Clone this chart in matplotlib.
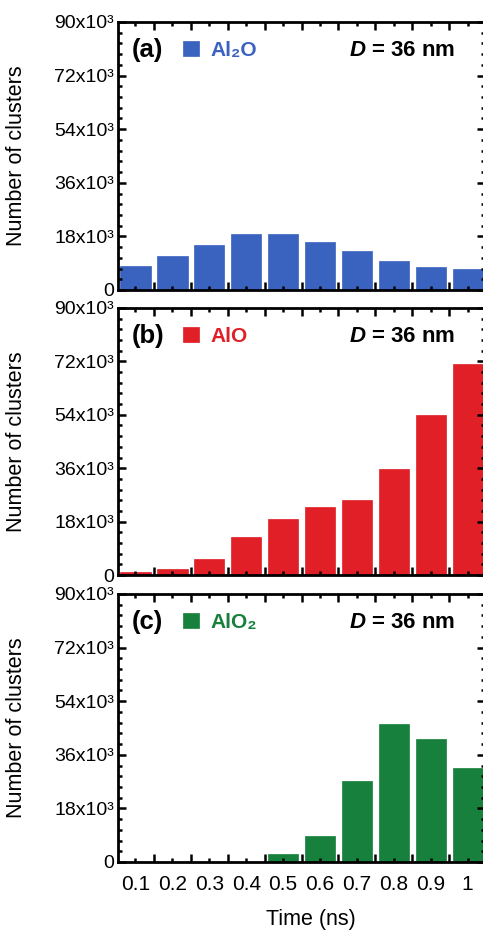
import matplotlib
matplotlib.use("Agg")
import matplotlib.pyplot as plt
import numpy as np
from matplotlib.ticker import MultipleLocator, FixedLocator

plt.rcParams['font.family'] = ['Liberation Sans', 'DejaVu Sans']
plt.rcParams['mathtext.fontset'] = 'custom'
plt.rcParams['mathtext.bfit'] = 'Liberation Sans:bold:italic'
plt.rcParams['mathtext.rm'] = 'Liberation Sans'
plt.rcParams['mathtext.bf'] = 'Liberation Sans:bold'

times = [0.1, 0.2, 0.3, 0.4, 0.5, 0.6, 0.7, 0.8, 0.9, 1.0]
time_labels = ["0.1", "0.2", "0.3", "0.4", "0.5", "0.6", "0.7", "0.8", "0.9", "1"]
al2o = [8.2e3, 11.3e3, 15.2e3, 18.7e3, 18.7e3, 16.2e3, 13.0e3, 9.7e3, 7.6e3, 6.9e3]
alo = [1.0e3, 2.1e3, 5.3e3, 12.7e3, 19.0e3, 22.8e3, 25.4e3, 35.8e3, 54.0e3, 71.2e3]
alo2 = [0, 0, 0, 0, 2.6e3, 8.6e3, 27.2e3, 46.5e3, 41.3e3, 31.6e3]
y_ticks = [0, 18e3, 36e3, 54e3, 72e3, 90e3]
y_labels = ["0", "18x10³", "36x10³", "54x10³", "72x10³", "90x10³"]

panels = [
    ("(a)", "Al₂O", al2o, "#3a62bf"),
    ("(b)", "AlO", alo, "#e01f27"),
    ("(c)", "AlO₂", alo2, "#17803c"),
]

W, H = 483, 933
fig = plt.figure(figsize=(W / 100, H / 100), dpi=100)

tops = [22, 308, 594]
bottoms = [290, 575, 862]
left_px, right_px = 118, 485

for i, (tag, name, vals, col) in enumerate(panels):
    ax = fig.add_axes([left_px / W, 1 - bottoms[i] / H,
                       (right_px - left_px) / W, (bottoms[i] - tops[i]) / H])
    bars = ax.bar(times, vals, width=0.082, color=col, edgecolor=col,
                  linewidth=0.5)
    ax.set_xlim(0.0526, 1.047)
    ax.set_ylim(0, 90e3)
    for s in ax.spines.values():
        s.set_linewidth(2.0)
    ax.yaxis.set_major_locator(FixedLocator(y_ticks))
    ax.yaxis.set_minor_locator(MultipleLocator(3.6e3))
    ax.set_yticklabels(y_labels)
    ax.xaxis.set_major_locator(FixedLocator(times))
    ax.xaxis.set_minor_locator(FixedLocator(np.array(times) + 0.05))
    if i == 2:
        ax.set_xticklabels(time_labels)
    else:
        ax.set_xticklabels([])
    ax.tick_params(axis='x', which='major', direction='in', length=3,
                   width=1.8, top=True, bottom=True, labelsize=15, pad=9)
    ax.tick_params(axis='x', which='minor', direction='in', length=6,
                   width=1.8, top=True, bottom=True)
    ax.tick_params(axis='y', which='major', direction='in', length=6,
                   width=1.8, left=True, right=True, labelsize=14, pad=3)
    ax.tick_params(axis='y', which='minor', direction='in', length=3,
                   width=1.8, left=True, right=True)
    ax.set_ylabel("Number of clusters", fontsize=15.5)
    ax.yaxis.set_label_coords((27 - left_px) / (right_px - left_px), 0.5)
    ax.text(0.038, 0.895, tag, transform=ax.transAxes, fontsize=18.5,
            fontweight='bold', va='center', ha='left')
    ax.text(0.918, 0.895, r"$\mathbfit{D}$ = 36 nm", transform=ax.transAxes,
            fontsize=16, fontweight='bold', va='center', ha='right')
    ax.legend([bars], [name], loc='center left',
              bbox_to_anchor=(0.178, 0.895), frameon=False,
              borderpad=0, borderaxespad=0, handlelength=0.75,
              handleheight=0.75, handletextpad=0.55,
              prop={'weight': 'bold', 'size': 15,
                    'family': ['Liberation Sans', 'DejaVu Sans']},
              labelcolor=col)

fig.text(311 / W, 1 - 920 / H, "Time (ns)", fontsize=15.5, ha='center',
         va='center')

fig.savefig("out.png", dpi=100, facecolor='white')
